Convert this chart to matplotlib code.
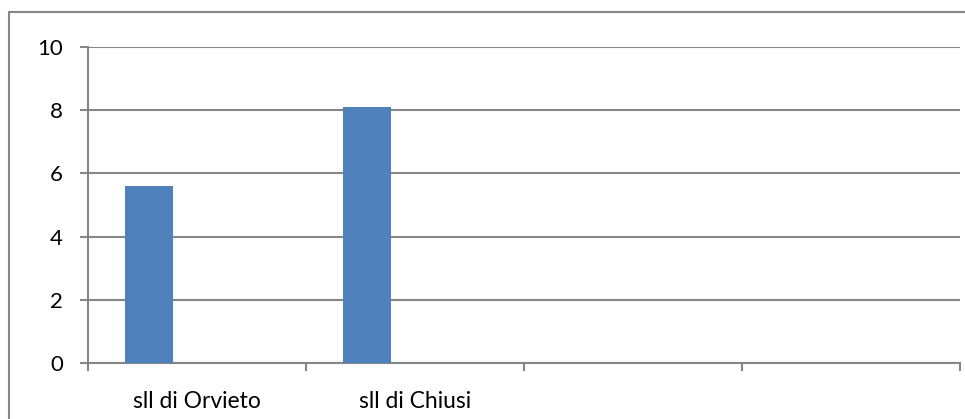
import numpy as np
import matplotlib as mpl

mpl.use("Agg")
from matplotlib import pyplot as plt
from matplotlib.patches import Rectangle

# dati
categorie = ["sll di Orvieto", "sll di Chiusi", "", ""]
valori = [5.6, 8.1, np.nan, np.nan]
y_ticks = [0, 2, 4, 6, 8, 10]

grigio = "#868686"
blu = "#4f81bd"

W, H = 965, 419
fig = plt.figure(figsize=(W / 100, H / 100), dpi=100)
plt.rcParams['font.family'] = ['Lato', 'DejaVu Sans']

# cornice esterna (tagliata a destra e in basso)
fig.patches.append(Rectangle((9 / W, -0.1), 1.2, 1 - 12 / H + 0.1,
                             transform=fig.transFigure, fill=False,
                             edgecolor=grigio, linewidth=1.5))

ax = fig.add_axes([88 / W, 1 - 363 / H, (960 - 88) / W, (363 - 47) / H])

n = len(categorie)
pos = np.arange(n)
ax.bar(pos - 0.22, valori, width=0.22, color=blu, zorder=3)

ax.set_xlim(-0.5, n - 0.5)
ax.set_ylim(0, 10)
ax.set_yticks(y_ticks)
ax.set_yticklabels([str(v) for v in y_ticks], fontsize=16)
ax.yaxis.grid(True, color=grigio, linewidth=1.5)
ax.set_axisbelow(True)

# tacche tra le categorie, etichette al centro
ax.set_xticks(np.arange(n + 1) - 0.5)
ax.set_xticklabels([])
ax.set_xticks(pos, minor=True)
ax.set_xticklabels(categorie, minor=True, fontsize=16.5)
ax.tick_params(axis='x', which='minor', length=0, pad=20)
ax.tick_params(axis='x', which='major', length=6, width=1.5, color=grigio)
ax.tick_params(axis='y', length=6, width=1.5, color=grigio, pad=12)

for s in ["top", "right"]:
    ax.spines[s].set_visible(False)
for s in ["left", "bottom"]:
    ax.spines[s].set_color(grigio)
    ax.spines[s].set_linewidth(1.5)

fig.savefig("out.png", dpi=100)
